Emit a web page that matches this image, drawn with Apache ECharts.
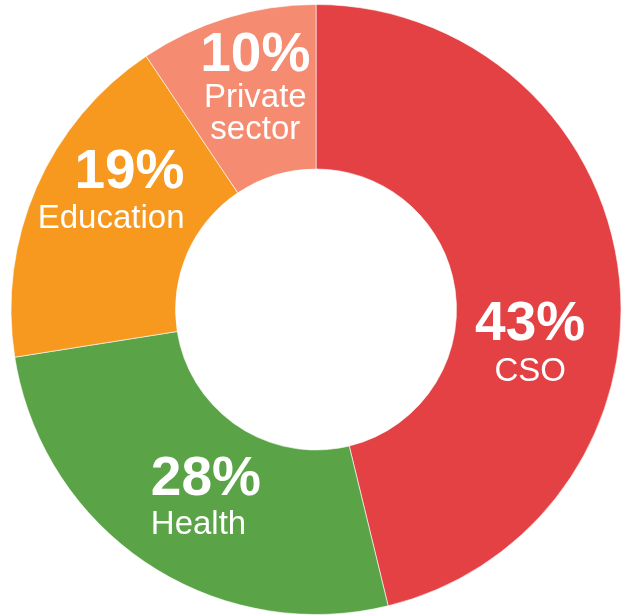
<!DOCTYPE html>
<html>
<head>
<meta charset="utf-8">
<script src="https://cdn.jsdelivr.net/npm/echarts@6/dist/echarts.min.js"></script>
<style>
html,body{margin:0;padding:0;background:#fff;}
#chart{width:623px;height:615px;}
</style>
</head>
<body>
<div id="chart"></div>
<script>
// Data
var categories = ['CSO', 'Health', 'Education', 'Private sector'];
var nameLines = ['CSO', 'Health', 'Education', 'Private\nsector'];
var shareLabels = ['43%', '28%', '19%', '10%'];
// Arc sizes as drawn in the reference (measured on the ring, in % of circle)
var sliceValues = [46.2, 26.3, 18.1, 9.4];

// Styling (kept separate from data)
var sliceColors = ['#E34144', '#5AA447', '#F7981F', '#F58B71'];
var labelAligns = ['center', 'left', 'right', 'center'];
var nameLineHeights = [42, 40, 40, 32];
var labelOffsets = [[-10, 63], [15, 2], [2, -26], [5, -6]];

var FONT = '"Liberation Sans", Arial, Helvetica, sans-serif';

var data = categories.map(function (c, i) {
  var a = labelAligns[i];
  var lines = nameLines[i].split('\n').map(function (l) { return '{n' + i + '|' + l + '}'; }).join('\n');
  var rich = {};
  rich['p' + i] = { fontFamily: FONT, fontSize: 55, fontWeight: 'bold', color: '#ffffff', lineHeight: 52, align: a };
  rich['n' + i] = { fontFamily: FONT, fontSize: 33, color: '#ffffff', lineHeight: nameLineHeights[i], align: a };
  return {
    name: c,
    value: sliceValues[i],
    itemStyle: { color: sliceColors[i] },
    label: {
      offset: labelOffsets[i],
      formatter: '{p' + i + '|' + shareLabels[i] + '}\n' + lines,
      rich: rich
    }
  };
});

var chart = echarts.init(document.getElementById('chart'), null, { renderer: 'canvas' });
chart.setOption({
  animation: false,
  series: [{
    type: 'pie',
    center: [316, 309.5],
    radius: [140.5, 305],
    startAngle: 90,
    clockwise: true,
    avoidLabelOverlap: false,
    emphasis: { disabled: true },
    itemStyle: { borderColor: '#ffffff', borderWidth: 0.6 },
    labelLine: { show: false },
    label: {
      show: true,
      position: 'inside',
      color: '#ffffff',
      fontFamily: FONT,
      verticalAlign: 'middle',
      overflow: 'none'
    },
    data: data
  }]
});
</script>
</body>
</html>
